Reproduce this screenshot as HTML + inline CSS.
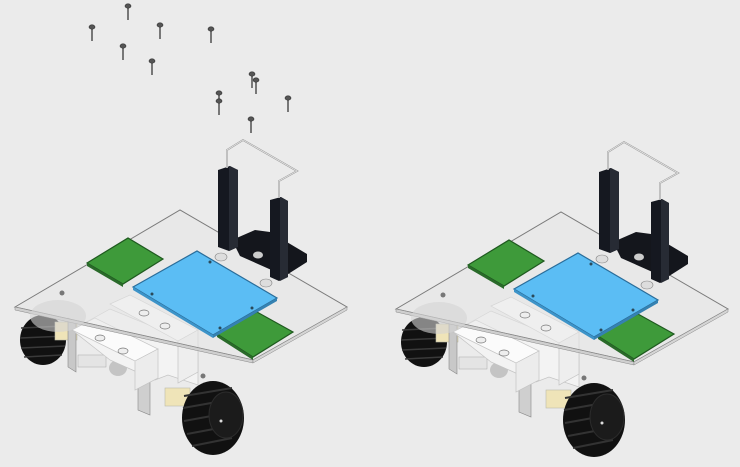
<!DOCTYPE html>
<html><head><meta charset="utf-8"><style>
html,body{margin:0;padding:0;background:#ebebeb;}
svg{display:block}
</style></head><body>
<svg width="740" height="467" viewBox="0 0 740 467" xmlns="http://www.w3.org/2000/svg">
<defs>
<g id="screw">
<rect x="-1" y="0" width="2" height="14" fill="#777"/>
<ellipse cx="0" cy="0" rx="3" ry="2.2" fill="#555" stroke="#333" stroke-width="0.6"/>
</g>
<g id="robot">
<!-- back wheel -->
<ellipse cx="43" cy="340" rx="23" ry="25" fill="#111"/>
<path d="M21 328 L64 326 M20 338 L66 336 M21 348 L65 346 M24 357 L62 355" stroke="#3a3a3a" stroke-width="1.5"/>
<!-- under plate stuff -->
<rect x="55" y="322" width="22" height="18" fill="#efe4b8" stroke="#bba" stroke-width="0.6"/>
<polygon points="68,318 76,322 76,372 68,367" fill="#c8c8c8" stroke="#888" stroke-width="0.6"/>
<polygon points="138,345 150,350 150,415 138,410" fill="#cfcfcf" stroke="#888" stroke-width="0.6"/>
<rect x="78" y="355" width="28" height="12" fill="#e4e4e4" stroke="#aaa" stroke-width="0.5"/>
<ellipse cx="118" cy="368" rx="9" ry="8" fill="#c4c4c4"/>
<rect x="165" y="388" width="25" height="18" fill="#efe4b8" stroke="#bba" stroke-width="0.6"/>
<!-- white motor blocks -->
<polygon points="72,330 110,309 198,345 198,385 168,375 155,380 110,360" fill="#f3f3f3" stroke="#c4c4c4" stroke-width="0.7"/>
<polygon points="110,304 130,295 198,330 178,341" fill="#fbfbfb" stroke="#c4c4c4" stroke-width="0.7"/>
<polygon points="72,330 95,318 158,349 135,361" fill="#fbfbfb" stroke="#c4c4c4" stroke-width="0.7"/>
<polygon points="135,361 158,349 158,378 135,390" fill="#ececec" stroke="#c4c4c4" stroke-width="0.7"/>
<polygon points="178,341 198,330 198,372 178,383" fill="#eeeeee" stroke="#c4c4c4" stroke-width="0.7"/>
<!-- plate -->
<polygon points="15,307 180,210 347,307 253,360" fill="#e6e6e6" fill-opacity="0.55" stroke="#7a7a7a" stroke-width="1"/>
<polygon points="15,307 253,360 253,363 15,310" fill="#cfcfcf" stroke="#888" stroke-width="0.5"/>
<polygon points="253,360 347,307 347,310 253,363" fill="#d5d5d5" stroke="#888" stroke-width="0.5"/>
<ellipse cx="58" cy="316" rx="28" ry="16" fill="#d4d4d4" opacity="0.6"/>
<ellipse cx="100" cy="338" rx="5" ry="3" fill="#eee" stroke="#777" stroke-width="0.7"/>
<ellipse cx="123" cy="351" rx="5" ry="3" fill="#eee" stroke="#777" stroke-width="0.7"/>
<ellipse cx="144" cy="313" rx="5" ry="3" fill="#eee" stroke="#777" stroke-width="0.7"/>
<ellipse cx="165" cy="326" rx="5" ry="3" fill="#eee" stroke="#777" stroke-width="0.7"/>
<circle cx="62" cy="293" r="2.5" fill="#777"/>
<circle cx="203" cy="376" r="2.5" fill="#777"/>
<!-- front wheel -->
<ellipse cx="213" cy="418" rx="31" ry="37" fill="#111"/>
<path d="M184 396 L232 388 M183 408 L228 400 M184 421 L228 413 M187 434 L230 426 M192 446 L232 438" stroke="#333" stroke-width="2"/>
<ellipse cx="226" cy="415" rx="17" ry="23" fill="#1b1b1b" stroke="#2c2c2c" stroke-width="1"/>
<circle cx="221" cy="421" r="1.5" fill="#ddd"/>
<!-- green boards -->
<polygon points="87,263 128,238 163,259 123,284" fill="#3e9a3a" stroke="#1f5a1f" stroke-width="1.2"/>
<polygon points="87,263 123,284 123,287 87,266" fill="#2a6a2a"/>
<polygon points="217,334 257,312 293,332 253,357" fill="#3e9a3a" stroke="#1f5a1f" stroke-width="1.2"/>
<polygon points="217,334 253,357 253,360 217,337" fill="#2a6a2a"/>
<!-- blue board -->
<polygon points="133,287 197,251 277,298 213,335" fill="#5bbdf4" stroke="#2a6d9a" stroke-width="1.2"/>
<polygon points="133,287 213,335 213,338 133,290" fill="#3d94c9"/>
<polygon points="213,335 277,298 277,301 213,338" fill="#3582b2"/>
<g fill="#2a4a5a"><circle cx="152" cy="294" r="1.5"/><circle cx="210" cy="262" r="1.5"/><circle cx="252" cy="308" r="1.5"/><circle cx="220" cy="328" r="1.5"/></g>
<!-- stand -->
<ellipse cx="221" cy="257" rx="6" ry="4" fill="#ddd" stroke="#888" stroke-width="0.6"/>
<ellipse cx="266" cy="283" rx="6" ry="4" fill="#ddd" stroke="#888" stroke-width="0.6"/>
<polygon points="232,240 255,230 270,232 307,254 307,262 285,276 240,256" fill="#14161c"/>
<ellipse cx="258" cy="255" rx="5" ry="3.5" fill="#ccc"/>
<polygon points="218,170 230,166 238,170 238,247 229,251 218,247" fill="#151820"/>
<polygon points="229,166 238,170 238,247 229,251" fill="#272b34"/>
<polygon points="270,200 281,197 288,201 288,277 279,281 270,277" fill="#151820"/>
<polygon points="280,197 288,201 288,277 280,281" fill="#272b34"/>
<path d="M227 168 L227 150 L243 140 L297 171 L279 181 L279 198" fill="none" stroke="#999" stroke-width="1.8"/>
<path d="M227 168 L227 150 L243 140 L297 171 L279 181 L279 198" fill="none" stroke="#f2f2f2" stroke-width="0.7"/>
</g>
</defs>
<use href="#robot"/>
<use href="#robot" transform="translate(381,2)"/>
<use href="#screw" x="128" y="6"/>
<use href="#screw" x="92" y="27"/>
<use href="#screw" x="160" y="25"/>
<use href="#screw" x="211" y="29"/>
<use href="#screw" x="123" y="46"/>
<use href="#screw" x="152" y="61"/>
<use href="#screw" x="252" y="74"/>
<use href="#screw" x="256" y="80"/>
<use href="#screw" x="219" y="93"/>
<use href="#screw" x="219" y="101"/>
<use href="#screw" x="288" y="98"/>
<use href="#screw" x="251" y="119"/>
</svg>
</body></html>
